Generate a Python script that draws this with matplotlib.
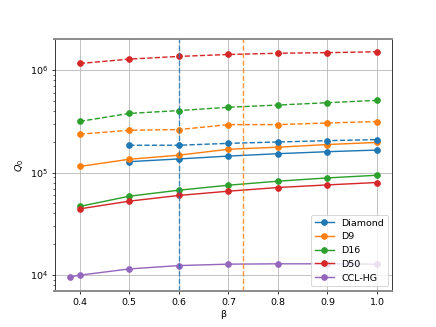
import matplotlib.pyplot as plt

beta = [0.4, 0.5, 0.6, 0.7, 0.8, 0.9, 1.0]
beta_diamond = [0.5, 0.6, 0.7, 0.8, 0.9, 1.0]
beta_ccl = [0.38, 0.4, 0.5, 0.6, 0.7, 0.8, 0.9, 1.0]

# solid curves
diamond = [1.28e5, 1.36e5, 1.45e5, 1.53e5, 1.60e5, 1.66e5]
d9 = [1.15e5, 1.35e5, 1.48e5, 1.69e5, 1.77e5, 1.88e5, 1.97e5]
d16 = [4.68e4, 5.89e4, 6.74e4, 7.54e4, 8.25e4, 8.88e4, 9.43e4]
d50 = [4.43e4, 5.27e4, 5.99e4, 6.59e4, 7.16e4, 7.59e4, 8.01e4]
ccl_hg = [9.6e3, 1.0e4, 1.15e4, 1.24e4, 1.28e4, 1.29e4, 1.29e4, 1.28e4]

# dashed curves
diamond_d = [1.85e5, 1.85e5, 1.93e5, 1.99e5, 2.05e5, 2.10e5]
d9_d = [2.37e5, 2.59e5, 2.63e5, 2.94e5, 2.94e5, 3.05e5, 3.15e5]
d16_d = [3.16e5, 3.78e5, 4.03e5, 4.34e5, 4.56e5, 4.81e5, 5.07e5]
d50_d = [1.16e6, 1.28e6, 1.36e6, 1.42e6, 1.46e6, 1.48e6, 1.51e6]

vlines = [0.6, 0.73]

fig, ax = plt.subplots(figsize=(6.4, 4.8), dpi=68.125)

ax.plot(beta_diamond, diamond, 'o-', color='C0', label='Diamond')
ax.plot(beta, d9, 'o-', color='C1', label='D9')
ax.plot(beta, d16, 'o-', color='C2', label='D16')
ax.plot(beta, d50, 'o-', color='C3', label='D50')
ax.plot(beta_ccl, ccl_hg, 'o-', color='C4', label='CCL-HG')

ax.plot(beta_diamond, diamond_d, 'o--', color='C0')
ax.plot(beta, d9_d, 'o--', color='C1')
ax.plot(beta, d16_d, 'o--', color='C2')
ax.plot(beta, d50_d, 'o--', color='C3')

ax.axvline(vlines[0], color='C0', ls='--', alpha=0.8)
ax.axvline(vlines[1], color='C1', ls='--', alpha=0.8)

ax.set_yscale('log')
ax.set_ylim(7e3, 2e6)
ax.grid(True)
ax.set_xlabel('β')
ax.set_ylabel('$Q_0$')
for s in ['top', 'bottom']:
    ax.spines[s].set_color('#888888')
    ax.spines[s].set_linewidth(2)
ax.legend(loc='lower right')

fig.savefig('out.png')
